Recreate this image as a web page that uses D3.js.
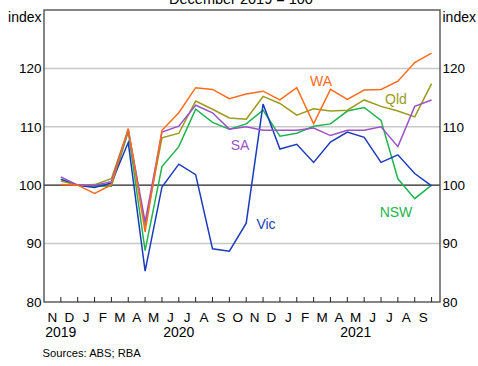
<!DOCTYPE html>
<html><head><meta charset="utf-8">
<script src="https://cdn.jsdelivr.net/npm/d3@7"></script>
<style>
html,body{margin:0;padding:0;background:#fff;}
svg{display:block;font-family:Arial,"Liberation Sans",sans-serif;}
</style></head>
<body>
<svg id="chart" width="478" height="366"></svg>
<script>
const months = ["N","D","J","F","M","A","M","J","J","A","S","O","N","D","J","F","M","A","M","J","J","A","S"];
const years = [
  {label:"2019", first:0, last:1},
  {label:"2020", first:2, last:13},
  {label:"2021", first:14, last:22}
];
const yTicks = [80, 90, 100, 110, 120];
const nsw = [101.0,100,99.8,99.8,109.2,88.8,103.2,106.6,113.0,110.75,109.6,110.5,112.85,108.4,108.9,110.1,110.5,112.7,113.3,111.1,101.1,97.7,100.0];
const vic = [101.0,100,99.6,100.4,107.3,85.3,99.7,103.6,101.8,89.1,88.7,93.5,113.9,106.2,107.0,103.9,107.4,109.1,108.2,103.9,105.2,102.0,99.9];
const qld = [100.7,100,100.1,101.1,109.6,93.0,108.1,108.9,114.4,113.0,111.5,111.3,115.2,114.0,112.0,113.1,112.7,112.85,114.6,113.5,112.7,111.7,117.4];
const sa  = [101.4,100,100.0,100.6,109.4,93.7,109.1,110.1,113.7,112.4,109.6,110.0,109.4,109.4,109.4,109.8,108.5,109.4,109.4,110.0,106.6,113.5,114.6];
const wa  = [100.1,100,98.6,100.05,109.7,92.0,109.4,112.4,116.7,116.4,114.8,115.6,116.1,114.6,116.7,110.5,116.4,114.7,116.3,116.4,117.8,121.0,122.6];

const series = [
  {name:"NSW", values:nsw, color:"#1db54e", lx:396, ly:217},
  {name:"Vic", values:vic, color:"#1b3cba", lx:266, ly:229},
  {name:"Qld", values:qld, color:"#9c9a1c", lx:396, ly:104},
  {name:"SA",  values:sa,  color:"#9b52c8", lx:240, ly:150},
  {name:"WA",  values:wa,  color:"#ff6b1c", lx:321, ly:86}
];

const L = 44, R = 440, T = 10, B = 302;
const svg = d3.select("#chart");
const x = d3.scaleLinear().domain([0, months.length + 0.5]).range([L, R]);
const y = d3.scaleLinear().domain([80, 130]).range([B, T]);

// title (partly cut off at the top edge, as in the reference)
svg.append("text").attr("x", 241).attr("y", 4).attr("text-anchor","middle")
  .attr("font-size", 14.5).attr("fill","#000").text("December 2019 = 100");

// gridlines
svg.append("g").selectAll("line").data(yTicks.filter(d => d > 80 && d !== 100)).join("line")
  .attr("x1", L).attr("x2", R).attr("y1", d => y(d)).attr("y2", d => y(d))
  .attr("stroke", "#c8c8c8").attr("stroke-width", 1.5);
svg.append("line").attr("x1", L).attr("x2", R).attr("y1", y(100)).attr("y2", y(100))
  .attr("stroke", "#222").attr("stroke-width", 1.3);

// series lines
const line = d3.line().x((d, i) => x(i + 1)).y(d => y(d));
svg.append("g").selectAll("path").data(series).join("path")
  .attr("d", d => line(d.values)).attr("fill", "none")
  .attr("stroke", d => d.color).attr("stroke-width", 1.5).attr("stroke-linejoin","miter");

// series labels
svg.append("g").selectAll("text").data(series).join("text")
  .attr("x", d => d.lx).attr("y", d => d.ly).attr("text-anchor","middle")
  .attr("font-size", 14).attr("fill", d => d.color).text(d => d.name);

// frame
svg.append("rect").attr("x", L).attr("y", T).attr("width", R - L).attr("height", B - T)
  .attr("fill", "none").attr("stroke", "#444").attr("stroke-width", 1.3);

// x ticks
svg.append("g").selectAll("line").data(d3.range(1, months.length + 1)).join("line")
  .attr("x1", d => x(d)).attr("x2", d => x(d)).attr("y1", B).attr("y2", B - 5)
  .attr("stroke", "#222").attr("stroke-width", 1);

// month labels
svg.append("g").selectAll("text").data(months).join("text")
  .attr("x", (d, i) => x(i + 0.5)).attr("y", 322).attr("text-anchor","middle")
  .attr("font-size", 13.5).attr("fill","#000").text(d => d);

// year labels
svg.append("g").selectAll("text").data(years).join("text")
  .attr("x", d => (x(d.first) + x(d.last + 1)) / 2).attr("y", 337).attr("text-anchor","middle")
  .attr("font-size", 14).attr("fill","#000").text(d => d.label);

// y tick labels
const yl = svg.append("g");
yl.selectAll("text.l").data(yTicks).join("text").attr("class","l")
  .attr("x", 41.5).attr("y", d => y(d)).attr("dy","0.36em").attr("text-anchor","end")
  .attr("font-size", 13.5).attr("fill","#000").text(d => d);
yl.selectAll("text.r").data(yTicks).join("text").attr("class","r")
  .attr("x", 442.5).attr("y", d => y(d)).attr("dy","0.36em").attr("text-anchor","start")
  .attr("font-size", 13.5).attr("fill","#000").text(d => d);

// units
svg.append("text").attr("x", 41.5).attr("y", 22).attr("text-anchor","end")
  .attr("font-size", 14).attr("fill","#000").text("index");
svg.append("text").attr("x", 442.5).attr("y", 22).attr("text-anchor","start")
  .attr("font-size", 14).attr("fill","#000").text("index");

// source
svg.append("text").attr("x", 42.5).attr("y", 357).attr("font-size", 11.2)
  .attr("fill","#000").text("Sources: ABS; RBA");
</script>
</body></html>
